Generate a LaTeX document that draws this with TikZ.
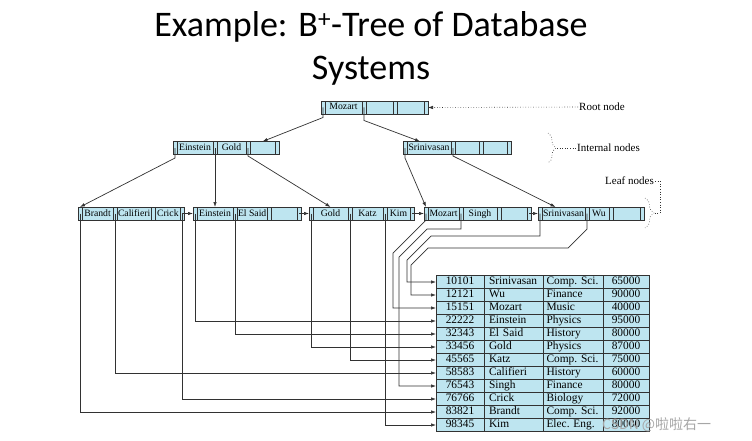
\documentclass[tikz,border=0pt]{standalone}
\usepackage{fontspec}
\setmainfont{Liberation Serif}
\newfontfamily\titlefont{Carlito}
\newfontfamily\cjk{Noto Sans CJK SC}
\usetikzlibrary{positioning,decorations.pathreplacing,arrows.meta}
\definecolor{cellfill}{RGB}{190,229,240}
\definecolor{linegray}{RGB}{50,50,50}
\tikzset{
    cell/.style={draw=linegray, fill=cellfill, line width=0.7pt, minimum height=13,
        inner xsep=1pt, inner ysep=0pt, outer sep=0pt,
        font=\fontsize{9.7}{10}\selectfont, text height=7pt, text depth=2pt},
    ptr/.style={cell, minimum width=4},
    key/.style={cell},
    rec/.style={cell, line width=0.6pt, inner xsep=5pt, font=\fontsize{11.4}{12}\selectfont\frenchspacing,
        text height=8pt, text depth=2.5pt},
    conn/.style={draw=linegray, line width=0.7pt},
    guide/.style={draw=linegray, dotted, line width=0.6pt},
    tag/.style={font=\fontsize{11}{12}\selectfont, inner sep=1pt},
}
% one node of the tree: ptr key ptr key ptr key ptr
\newcommand\BNode[9]{%
    \node[ptr, anchor=west] (#1p0) at (#2,#3) {};
    \node[key, minimum width=#5, right=0pt of #1p0] (#1k1) {#4};
    \node[ptr, right=0pt of #1k1] (#1p1) {};
    \node[key, minimum width=#7, right=0pt of #1p1] (#1k2) {#6};
    \node[ptr, right=0pt of #1k2] (#1p2) {};
    \node[key, minimum width=#9, right=0pt of #1p2] (#1k3) {#8};
    \node[ptr, right=0pt of #1k3] (#1p3) {};
}
\begin{document}
\begin{tikzpicture}[x=1pt, y=-1pt, >={Latex[length=5pt,width=3.5pt]}]
    \useasboundingbox[fill=white] (0,0) rectangle (752,441);
    % title
    \node[font=\titlefont\fontsize{36}{40}\selectfont, anchor=base] (ttl1) at (371,37)
        {Example: B\textsuperscript{+}-Tree of Database};
    \node[font=\titlefont\fontsize{36}{40}\selectfont, anchor=base] (ttl2) at (371,80) {Systems};

    % tree nodes
    \BNode{root}{321}{107.5}{Mozart}{37}{}{27}{}{27}
    \BNode{inA}{173}{148}{Einstein}{36}{Gold}{29}{}{25}
    \BNode{inB}{403}{148}{Srinivasan}{44}{}{24}{}{24}
    \BNode{lfA}{78}{213.5}{Brandt}{31}{Califieri}{34}{Crick}{25}
    \BNode{lfB}{193}{213.5}{Einstein}{36}{El Said}{30}{}{26}
    \BNode{lfC}{309}{213.5}{Gold}{35}{Katz}{31}{Kim}{23}
    \BNode{lfD}{424}{213.5}{Mozart}{31}{Singh}{34}{}{26}
    \BNode{lfE}{538}{213.5}{Srinivasan}{43}{Wu}{20}{}{27}

    % tree pointers
    \draw[conn,->] (rootp0.center) -- ++(0,10) -- (inAk3.north);
    \draw[conn,->] (rootp1.center) -- ++(0,13) -- ([xshift=-9pt]inBk1.north);
    \draw[conn,->] (inAp0.center) -- ++(0,10) -- (lfAp0.north);
    \draw[conn,->] (inAp1.center) -- (lfBk1.north);
    \draw[conn,->] (inAp2.center) -- ++(0,8) -- (lfCk1.north);
    \draw[conn,->] (inBp0.center) -- ++(0,10) -- (lfDp0.north);
    \draw[conn,->] (inBp1.center) -- ++(0,8) -- ([xshift=-8pt]lfEk1.north);
    \foreach \src/\dst in {lfA/lfB, lfB/lfC, lfC/lfD, lfD/lfE}
        \draw[conn,->] (\src p3.center) -- (\dst p0.west);

    % file of records
    \foreach \i/\id/\nm/\dept/\sal in {1/10101/Srinivasan/Comp. Sci./65000,
            2/12121/Wu/Finance/90000, 3/15151/Mozart/Music/40000,
            4/22222/Einstein/Physics/95000, 5/32343/El Said/History/80000,
            6/33456/Gold/Physics/87000, 7/45565/Katz/Comp. Sci./75000,
            8/58583/Califieri/History/60000, 9/76543/Singh/Finance/80000,
            10/76766/Crick/Biology/72000, 11/83821/Brandt/Comp. Sci./92000,
            12/98345/Kim/Elec. Eng./80000} {
        \node[rec, text width=38, align=center, anchor=north west] (recid\i) at (436,{262.5+13*\i}) {\id};
        \node[rec, text width=49, align=left, right=0pt of recid\i] (recnm\i) {\nm};
        \node[rec, inner xsep=3.5pt, text width=53, align=left, right=0pt of recnm\i] (recdp\i) {\mbox{\dept}};
        \node[rec, text width=36, align=center, right=0pt of recdp\i] (recsl\i) {\sal};
    }

    % record pointers
    \draw[conn,->] (lfAp0.center) |- (recid11.west);
    \draw[conn,->] (lfAp1.center) |- (recid8.west);
    \draw[conn,->] (lfAp3.center) |- (recid10.west);
    \draw[conn,->] (lfBp0.center) |- (recid4.west);
    \draw[conn,->] (lfBp1.center) |- (recid5.west);
    \draw[conn,->] (lfCp0.center) |- (recid6.west);
    \draw[conn,->] (lfCp1.center) |- (recid7.west);
    \draw[conn,->] (lfCp2.center) |- (recid12.west);
    \draw[conn,->] (lfDp0.center) -- (lfDp0.south) -- ++(-33,33) |- (recid3.west);
    \draw[conn,->] (lfDp1.center) -- ++(0,15.5) -- ++(-34,0) -- ++(-28,28) |- (recid9.west);
    \draw[conn,->] (lfEp0.center) -- ++(0,22.5) -- ++(-109,0) -- ++(-24,24) |- (recid1.west);
    \draw[conn,->] (lfEp1.center) -- ++(0,15.5) -- ++(-19,19) -- ++(-140,0) -- ++(-17,17) |- (recid2.west);

    % labels
    \node[tag, anchor=west] (rootlbl) at (578,107) {Root node};
    \draw[guide,->] (rootlbl.west) -- (rootp3.east);
    \node[tag, anchor=west] (intlbl) at (576,148) {Internal nodes};
    \draw[guide, decorate, decoration={brace, amplitude=8pt}] (548,133) -- (548,163);
    \coordinate (inttip) at (557,148);
    \draw[guide] (inttip) -- (intlbl.west);
    \node[tag, anchor=east] (leaflbl) at (655,181) {Leaf nodes};
    \draw[guide, decorate, decoration={brace, amplitude=9pt}] (645,198) -- (645,228);
    \coordinate (leaftip) at (655,213);
    \draw[guide] (leaflbl.east) -- ++(5,0) |- (leaftip);

    % watermark
    \node[font=\cjk\fontsize{14}{15}\selectfont, text=gray!70, anchor=base west, inner sep=0pt] (wmark)
        at (602,429) {CSDN @啦啦右一};
\end{tikzpicture}
\end{document}
